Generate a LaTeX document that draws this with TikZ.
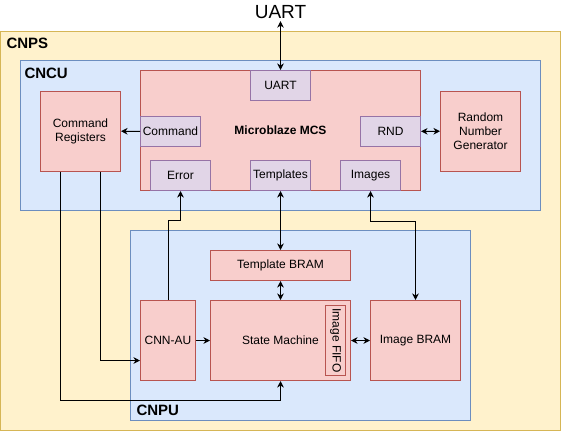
\documentclass[tikz,border=0pt]{standalone}
\usepackage{fontspec}
\setmainfont{Liberation Sans}
\usetikzlibrary{positioning,arrows.meta}

\definecolor{psfill}{HTML}{FFF2CC}
\definecolor{psline}{HTML}{D6B656}
\definecolor{unitfill}{HTML}{DAE8FC}
\definecolor{unitline}{HTML}{6C8EBF}
\definecolor{blkfill}{HTML}{F8CECC}
\definecolor{blkline}{HTML}{B85450}
\definecolor{portfill}{HTML}{E1D5E7}
\definecolor{portline}{HTML}{9673A6}

\begin{document}
\begin{tikzpicture}[x=1pt,y=-1pt,line width=1pt]
\tikzstyle{every node}+=[inner sep=0pt,font=\fontsize{12}{14}\selectfont]
\tikzstyle{psbox}=[draw=psline,fill=psfill]
\tikzstyle{unitbox}=[draw=unitline,fill=unitfill]
\tikzstyle{blk}=[draw=blkline,fill=blkfill,align=center]
\tikzstyle{port}=[draw=portline,fill=portfill,minimum width=60pt,minimum height=30pt]
\tikzstyle{grplabel}=[anchor=west,font=\fontsize{15}{17}\selectfont\bfseries]
\tikzstyle{arr}=[-{Stealth[length=6.5pt,width=6.5pt,inset=2pt]}]
\tikzstyle{dbl}=[{Stealth[length=6.5pt,width=6.5pt,inset=2pt]}-{Stealth[length=6.5pt,width=6.5pt,inset=2pt]}]
\useasboundingbox (0,0) rectangle (561,431);
% containers
\node [psbox,minimum width=559.5pt,minimum height=398.5pt] (cnps) at (280.25,230.75) {};
\node [grplabel] (cnpslabel) at (6,43) {CNPS};
\node [unitbox,minimum width=520pt,minimum height=150pt] (cncu) at (280.5,135.5) {};
\node [grplabel] (cnculabel) at (24,73) {CNCU};
\node [unitbox,minimum width=340pt,minimum height=190pt] (cnpu) at (300.5,325.5) {};
\node [grplabel] (cnpulabel) at (136,410.5) {CNPU};
% control unit
\node [font=\fontsize{19}{21}\selectfont,inner sep=2pt] (uart) at (280.5,12) {UART};
\node [blk,minimum width=280pt,minimum height=120pt,font=\fontsize{12}{14}\selectfont\bfseries] (mcs) at (280.5,130.5) {Microblaze MCS};
\node [port] (uartport) at (280.5,85.5) {UART};
\node [port] (cmdport) at (170.5,131.5) {Command};
\node [port] (rndport) at (390.5,131.5) {RND};
\node [port] (errport) at (180.5,175.5) {Error};
\node [port] (tplport) at (280.5,175.5) {Templates};
\node [port] (imgport) at (370.5,175.5) {Images};
\node [blk,minimum width=80pt,minimum height=80pt] (cmdreg) at (80.5,131) {Command\\Registers};
\node [blk,minimum width=80pt,minimum height=80pt] (rng) at (480.5,131) {Random\\Number\\Generator};
% processing unit
\node [blk,minimum width=140pt,minimum height=30pt] (tbram) at (280.5,265.5) {Template BRAM};
\node [blk,minimum width=55pt,minimum height=80pt] (cnnau) at (168,340.5) {CNN-AU};
\node [blk,minimum width=140pt,minimum height=80pt] (sm) at (280.5,340.5) {State Machine};
\node [blk,minimum width=70pt,minimum height=20pt,rotate=-90] (fifo) at (335.5,340.5) {Image FIFO};
\node [blk,minimum width=90pt,minimum height=80pt] (ibram) at (415.5,340.5) {Image BRAM};
% connections
\draw [dbl] (uart) -- (uartport);
\draw [dbl] (rndport) -- (rng);
\draw [arr] (cmdport) -- (cmdreg);
\draw [dbl] (tplport) -- (tbram);
\draw [dbl] (tbram) -- (sm);
\draw [arr] (cnnau) -- (sm);
\draw [dbl] (sm) -- (ibram);
\draw [dbl] (imgport.south) -- ++(0,30) -| (ibram.north);
\draw [arr] (cnnau.north) -- ++(0,-80) -| (errport.south);
\draw [arr] ([xshift=20pt]cmdreg.south) |- ([yshift=-20pt]cnnau.west);
\draw [arr] ([xshift=-20pt]cmdreg.south) -- ++(0,229) -| (sm.south);
\end{tikzpicture}
\end{document}
